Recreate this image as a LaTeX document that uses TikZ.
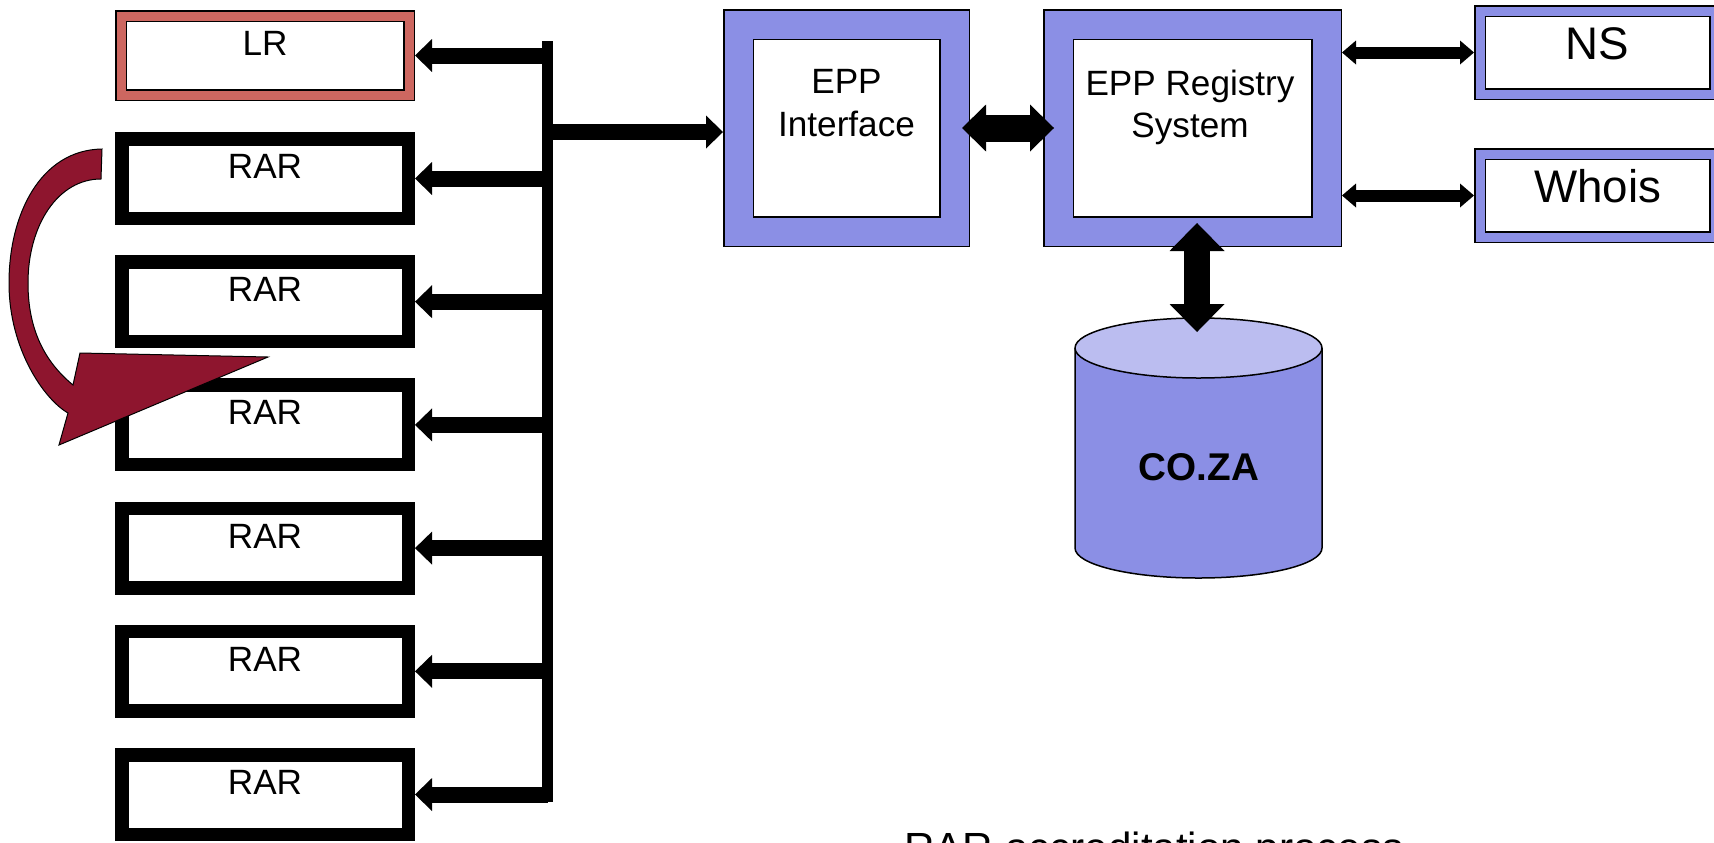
\documentclass[tikz,border=0pt]{standalone}
\usepackage{fontspec}
\setmainfont{Liberation Sans}
\usetikzlibrary{arrows.meta}

\definecolor{eppblue}{RGB}{139,143,229}
\definecolor{eppbluelight}{RGB}{187,189,240}
\definecolor{lrsalmon}{RGB}{205,103,96}
\definecolor{turnred}{RGB}{142,21,46}

\tikzset{
	rarbox/.style={draw=black, line width=1.35mm, fill=white, inner sep=0pt,
		minimum width=28.65mm, minimum height=7.95mm},
	framedbox/.style={draw=black, line width=0.15mm, double=#1, double distance=0.9mm,
		fill=white, inner sep=0pt, outer sep=0.6mm},
	eppbox/.style={draw=black, line width=0.15mm, double=eppblue, double distance=2.8mm,
		fill=white, inner sep=0pt, outer sep=1.55mm, minimum height=20.7mm},
	boxtext/.style={inner sep=0pt, font=\fontsize{10}{12}\selectfont},
	bigtext/.style={inner sep=0pt, font=\fontsize{13}{15}\selectfont},
	busarrow/.style={line width=1.6mm, -{Triangle[length=1.7mm, width=3.3mm, line width=0pt]}},
	fatlink/.style={line width=2.7mm,
		{Triangle[length=2.4mm, width=4.7mm, line width=0pt]}-{Triangle[length=2.4mm, width=4.7mm, line width=0pt]}},
	thinlink/.style={line width=1.2mm,
		{Triangle[length=1.4mm, width=2.4mm, line width=0pt]}-{Triangle[length=1.4mm, width=2.4mm, line width=0pt]}},
	dblink/.style={line width=2.6mm,
		{Triangle[length=2.8mm, width=5.5mm, line width=0pt]}-{Triangle[length=2.8mm, width=5.5mm, line width=0pt]}}
}

\begin{document}
\begin{tikzpicture}[x=0.1mm, y=-0.1mm]
	\useasboundingbox (0, 0) rectangle (1714, 842);

	% registrar side
	\node[framedbox=lrsalmon, minimum width=28.8mm, minimum height=7.9mm] (lr) at (265, 55.5) {};
	\node[boxtext, anchor=base] (lrtext) at (lr.center) {LR};

	\coordinate (bustop) at (547.5, 41);
	\coordinate (busbot) at (547.5, 802);
	\draw[line width=1.1mm] (bustop) -- (busbot);
	\draw[busarrow] (bustop |- lr.east) -- (lr.east);

	\foreach \i in {1,...,6}{
		\pgfmathsetmacro\ry{178.5 + 123.2*(\i - 1)}
		\node[rarbox] (rar\i) at (265, \ry) {};
		\node[boxtext, anchor=base] (rartext\i) at (rar\i.center) {RAR};
		\draw[busarrow] (bustop |- rar\i.east) -- (rar\i.east);
	}

	% registry side
	\node[eppbox, minimum width=21.6mm] (iface) at (846.5, 128) {};
	\node[boxtext, align=center, anchor=north] (ifacetext) at (846.5, 69) {EPP\\Interface};

	\node[eppbox, minimum width=26.8mm] (reg) at (1192.5, 128) {};
	\node[boxtext, align=center, anchor=north] (regtext) at (1190, 69) {EPP Registry\\System};

	\node[framedbox=eppblue, minimum width=23.5mm, minimum height=8.3mm] (ns) at (1597.5, 52.5) {};
	\node[bigtext, anchor=base] (nstext) at (1597.5, 59) {NS};

	\node[framedbox=eppblue, minimum width=23.5mm, minimum height=8.3mm] (whois) at (1597.5, 195.5) {};
	\node[bigtext, anchor=base] (whoistext) at (1597.5, 202) {Whois};

	\coordinate (feed) at (iface.west |- 0, 132);
	\draw[busarrow] (bustop |- feed) -- (feed);
	\draw[fatlink] ([xshift=-0.8mm]iface.east) -- ([xshift=1.1mm]reg.west);
	\draw[thinlink] (reg.east |- ns.west) -- (ns.west);
	\draw[thinlink] (reg.east |- whois.west) -- (whois.west);

	% database
	\fill[eppblue] (1075, 348) -- (1075, 548) arc[start angle=180, end angle=360, x radius=12.35mm, y radius=3mm] -- (1322, 348) -- cycle;
	\draw[line width=0.15mm] (1075, 348) -- (1075, 548) arc[start angle=180, end angle=360, x radius=12.35mm, y radius=3mm] -- (1322, 348);
	\filldraw[fill=eppbluelight, line width=0.15mm] (1198.5, 348) ellipse [x radius=12.35mm, y radius=3mm];
	\node[inner sep=0pt, font=\fontsize{11}{13}\selectfont\bfseries, anchor=base] (dbtext) at (1199, 480) {CO.ZA};
	\coordinate (dbtip) at (1197, 332);
	\draw[dblink] ([yshift=2.4mm]reg.south -| dbtip) -- (dbtip);

	% moving a registrar
	\filldraw[fill=turnred, draw=black, line width=0.1mm]
		(102, 149) .. controls (40, 150) and (9, 215) .. (9, 283)
		.. controls (9, 350) and (45, 400) .. (68, 413)
		-- (59, 445) -- (268, 357) -- (80, 353) -- (73, 385)
		.. controls (45, 362) and (28, 330) .. (28, 283)
		.. controls (28, 225) and (58, 179) .. (101, 179) -- cycle;

	\node[inner sep=0pt, font=\fontsize{12}{14}\selectfont, anchor=base] (caption) at (1154, 862) {RAR accreditation process};
\end{tikzpicture}
\end{document}
